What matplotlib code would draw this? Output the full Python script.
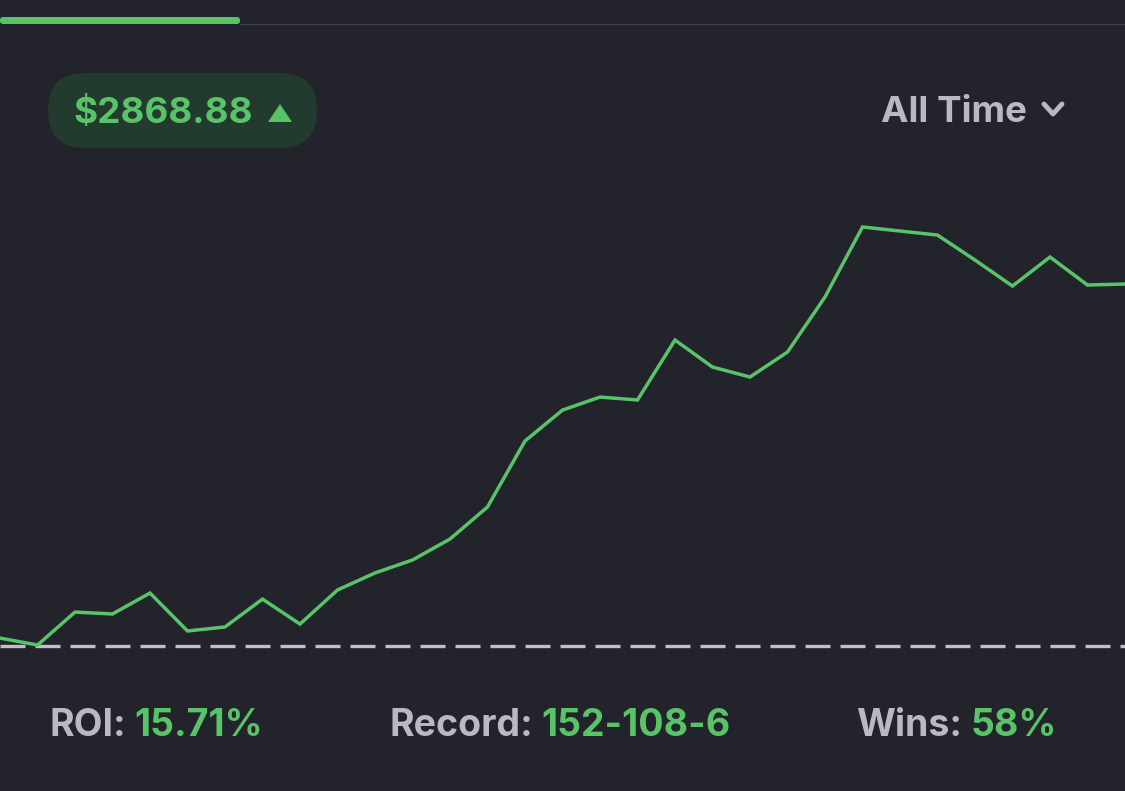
import matplotlib.pyplot as plt
from matplotlib.patches import FancyBboxPatch, Polygon
from matplotlib.lines import Line2D

# profit history (dollars), one point per step
steps = list(range(31))
profit = [63, 8, 269, 254, 420, 119, 151, 372, 174, 444,
          579, 682, 848, 1102, 1625, 1870, 1973, 1950, 2425, 2211,
          2132, 2330, 2766, 3321, 3289, 3257, 3059, 2853, 3083, 2861,
          2869]

balance_label = "$2868.88"
range_label = "All Time"
stat_names = ["ROI:", "Record:", "Wins:"]
stat_values = ["15.71%", "152-108-6", "58%"]

bg = "#22232b"
green = "#58c467"
gray = "#b9b9c1"

plt.rcParams['font.family'] = ['Inter', 'DejaVu Sans']

W, H = 1125, 791
fig = plt.figure(figsize=(W / 100, H / 100), dpi=100, facecolor=bg)

# data axes: full width, y scaled so zero sits at the dashed line
ax = fig.add_axes([0, 0, 1, 1])
ax.set_facecolor(bg)
ax.set_xlim(0, 30)
ax.set_ylim(-1149, 5120)
ax.axis("off")
ax.plot(steps, profit, color=green, lw=2.5, solid_joinstyle="miter", zorder=3)
ax.axhline(0, color="#c0c0c8", lw=2.4, dashes=(7.5, 3), zorder=2)

# overlay in pixel coords for the app chrome
ov = fig.add_axes([0, 0, 1, 1], facecolor="none")
ov.set_xlim(0, W)
ov.set_ylim(H, 0)
ov.axis("off")

# tab indicator
ov.add_patch(FancyBboxPatch((0, 17), 240, 7, boxstyle="round,pad=0,rounding_size=3",
                            fc=green, ec="none"))
ov.add_line(Line2D([240, W], [24, 24], color="#3e3f47", lw=1))

# balance pill
ov.add_patch(FancyBboxPatch((48, 73), 269, 75, boxstyle="round,pad=0,rounding_size=37",
                            fc="#233a2f", ec="none"))
ov.text(73, 113, balance_label, color=green, fontsize=26.5, fontweight="bold",
        ha="left", va="center")
ov.add_patch(Polygon([[268, 122], [292, 122], [280, 104]], closed=True, fc=green, ec="none"))

# range selector
ov.text(1027, 113, range_label, color=gray, fontsize=26.5, fontweight="bold",
        ha="right", va="center")
ov.add_line(Line2D([1044, 1053, 1062], [104, 114, 104], color=gray, lw=3.5,
                   solid_capstyle="round", solid_joinstyle="round"))

# stats row
fig.canvas.draw()
renderer = fig.canvas.get_renderer()
inv = ov.transData.inverted()
for x0, name, val in zip([49, 389, 856], stat_names, stat_values):
    t = ov.text(x0, 726, name, color=gray, fontsize=27, fontweight="bold",
                ha="left", va="center")
    bb = t.get_window_extent(renderer)
    x1 = inv.transform((bb.x1, bb.y0))[0]
    ov.text(x1 + 9, 726, val, color=green, fontsize=27, fontweight="bold",
            ha="left", va="center")

fig.savefig("out.png", dpi=100, facecolor=bg)
